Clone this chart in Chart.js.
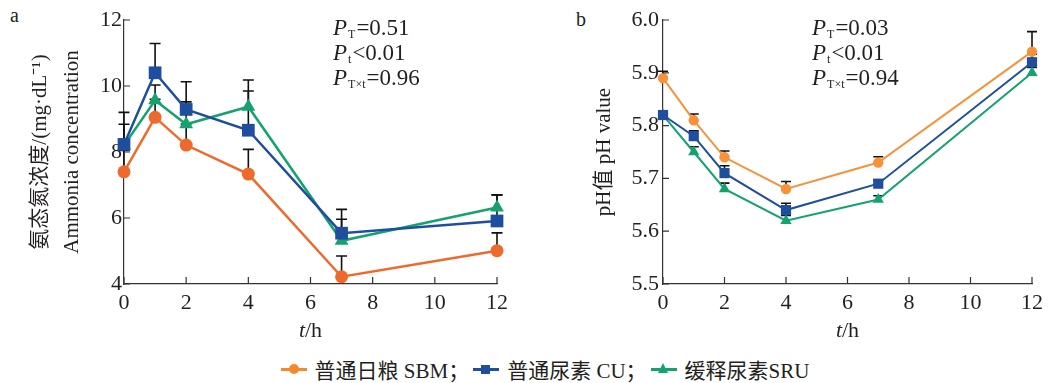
<!DOCTYPE html>
<html>
<head>
<meta charset="utf-8">
<script src="https://cdn.jsdelivr.net/npm/chart.js@4.4.1/dist/chart.umd.min.js"></script>
<style>
  body { margin:0; background:#fff; width:1054px; height:383px; position:relative; overflow:hidden;
         font-family:"Liberation Serif","Noto Sans CJK SC",serif; color:#231f20; }
  .box { position:absolute; top:0; width:527px; height:345px; }
  .tag { position:absolute; font-size:20px; }
  #legend { position:absolute; left:20px; top:356px; width:1054px; height:26px; display:flex;
            justify-content:center; align-items:center; font-size:21px; }
  .item { display:flex; align-items:center; margin-right:4px; }
  .ico { position:relative; width:26px; height:14px; margin-right:8px; }
  .ico .ln { position:absolute; left:0; right:0; top:6px; height:2.5px; }
  .ico .mk { position:absolute; }
</style>
</head>
<body>
<div class="tag" style="left:10px;top:4px">a</div>
<div class="tag" style="left:576px;top:8px">b</div>
<div class="box" style="left:0"><canvas id="nh3"></canvas></div>
<div class="box" style="left:527px"><canvas id="ph"></canvas></div>
<div id="legend"></div>
<script>
// sampling time (h)
const hours = [0, 1, 2, 4, 7, 12];
const groups = ['普通日粮 SBM', '普通尿素 CU', '缓释尿素SRU'];

// ammonia N, mg/dL (mean and top of error bar)
const nh3SBM = [7.40, 9.05, 8.21, 7.33, 4.22, 5.01];
const nh3SBMTop = [8.05, 9.60, 8.85, 8.08, 4.85, 5.55];
const nh3CU = [8.23, 10.40, 9.29, 8.66, 5.54, 5.91];
const nh3CUTop = [9.20, 11.29, 10.13, 9.85, 6.26, 6.70];
const nh3SRU = [8.20, 9.57, 8.84, 9.37, 5.31, 6.32];
const nh3SRUTop = [8.84, 10.03, 9.52, 10.18, 5.96, 6.70];

// pH
const phSBM = [5.89, 5.81, 5.74, 5.68, 5.73, 5.94];
const phSBMTop = [5.903, 5.822, 5.752, 5.694, 5.741, 5.978];
const phCU = [5.82, 5.78, 5.71, 5.64, 5.69, 5.92];
const phCUTop = [5.826, 5.790, 5.724, 5.653, 5.697, 5.935];
const phSRU = [5.82, 5.75, 5.68, 5.62, 5.66, 5.90];
const phSRUTop = [5.826, 5.760, 5.691, 5.630, 5.667, 5.910];

const nh3Stats = [['T', '=0.51'], ['t', '<0.01'], ['T×t', '=0.96']];
const phStats = [['T', '=0.03'], ['t', '<0.01'], ['T×t', '=0.94']];

const blue = '#1f4e9f', green = '#14a26e';
const serif = '"Liberation Serif","Noto Sans CJK SC",serif';
const ink = '#231f20';

// upward SE bars, drawn under the markers
const errorBars = {
  id: 'errorBars',
  beforeDatasetsDraw(chart, args, opts) {
    const { ctx } = chart, yS = chart.scales.y;
    ctx.save();
    ctx.strokeStyle = '#111';
    ctx.lineWidth = 1.6;
    chart.data.datasets.forEach((ds, di) => {
      chart.getDatasetMeta(di).data.forEach((pt, i) => {
        const top = yS.getPixelForValue(ds.errTop[i]);
        ctx.beginPath();
        ctx.moveTo(pt.x, pt.y); ctx.lineTo(pt.x, top);
        ctx.moveTo(pt.x - opts.cap, top); ctx.lineTo(pt.x + opts.cap, top);
        ctx.stroke();
      });
    });
    ctx.restore();
  }
};

// tick marks pointing into the plot, x title, P values
const decor = {
  id: 'decor',
  afterDraw(chart, args, opts) {
    const { ctx, scales: { x, y }, chartArea } = chart;
    ctx.save();
    ctx.strokeStyle = '#333';
    ctx.lineWidth = 1.2;
    ctx.beginPath();
    y.ticks.forEach(t => { const py = y.getPixelForValue(t.value); ctx.moveTo(y.right, py); ctx.lineTo(y.right + 6, py); });
    x.ticks.forEach(t => { const px = x.getPixelForValue(t.value); ctx.moveTo(px, x.top); ctx.lineTo(px, x.top - 7); });
    ctx.stroke();

    ctx.fillStyle = ink;
    ctx.textBaseline = 'alphabetic';
    // x title  t/h
    const cx = (chartArea.left + chartArea.right) / 2;
    ctx.font = 'italic 22px ' + serif;
    const wt = ctx.measureText('t').width;
    ctx.font = '22px ' + serif;
    const wh = ctx.measureText('/h').width;
    const sx = cx - (wt + wh) / 2;
    ctx.font = 'italic 22px ' + serif;
    ctx.fillText('t', sx, 337);
    ctx.font = '22px ' + serif;
    ctx.fillText('/h', sx + wt, 337);

    // P values
    opts.stats.forEach((s, i) => {
      const by = 35 + i * 25;
      let px = opts.px;
      ctx.font = 'italic 23px ' + serif;
      ctx.fillText('P', px, by);
      px += ctx.measureText('P').width + 1;
      ctx.font = '12px ' + serif;
      ctx.fillText(s[0], px, by + 3);
      px += ctx.measureText(s[0]).width + 1;
      ctx.font = '23px ' + serif;
      ctx.fillText(s[1], px, by);
    });
    ctx.restore();
  }
};

function series(label, vals, tops, color, style, r, bw) {
  return {
    label, errTop: tops,
    data: hours.map((h, i) => ({ x: h, y: vals[i] })),
    borderColor: color, backgroundColor: color, borderWidth: bw,
    pointStyle: style, pointRadius: r, pointHoverRadius: r, pointBorderWidth: 0,
    tension: 0, clip: false
  };
}

function makeChart(id, datasets, yOpts, title, yWidth, padRight, stats, px, cap) {
  return new Chart(document.getElementById(id), {
    type: 'line',
    data: { datasets },
    plugins: [errorBars, decor],
    options: {
      responsive: true, maintainAspectRatio: false, animation: false,
      layout: { padding: { top: 20, right: padRight, left: 0, bottom: 0 } },
      plugins: { legend: { display: false }, tooltip: { enabled: false },
                 errorBars: { cap }, decor: { stats, px } },
      scales: {
        x: {
          type: 'linear', min: 0, max: 12,
          ticks: { stepSize: 2, padding: 6, color: ink, font: { family: serif, size: 22 } },
          grid: { display: false, drawTicks: false },
          border: { display: true, color: '#333', width: 1.2 },
          afterFit: s => { s.height = 61; }
        },
        y: Object.assign({
          grid: { display: false, drawTicks: false },
          border: { display: true, color: '#333', width: 1.2 },
          title: title,
          afterFit: s => { s.width = yWidth; }
        }, yOpts)
      }
    }
  });
}

makeChart('nh3', [
  series(groups[0], nh3SBM, nh3SBMTop, '#ee6a2c', 'circle', 6.5, 2.5),
  series(groups[1], nh3CU, nh3CUTop, blue, 'rect', 9, 2.5),
  series(groups[2], nh3SRU, nh3SRUTop, green, 'triangle', 8, 2.5)
], {
  min: 4, max: 12,
  ticks: { stepSize: 2, padding: 2, color: ink, font: { family: serif, size: 22 } }
}, {
  display: true, text: ['氨态氮浓度/(mg·dL⁻¹)', 'Ammonia concentration'], color: ink,
  font: { family: serif, size: 21, lineHeight: 1.55 }, padding: { top: 24, bottom: 0 }
}, 124, 30, nh3Stats, 333, 5.5);

makeChart('ph', [
  series(groups[0], phSBM, phSBMTop, '#f7923a', 'circle', 5.2, 2),
  series(groups[1], phCU, phCUTop, blue, 'rect', 7.2, 2),
  series(groups[2], phSRU, phSRUTop, green, 'triangle', 6.5, 2)
], {
  min: 5.5, max: 6.0,
  ticks: { stepSize: 0.1, padding: 4, color: ink, font: { family: serif, size: 22 },
           callback: v => v.toFixed(1) }
}, {
  display: true, text: 'pH值 pH value', color: ink,
  font: { family: serif, size: 21, lineHeight: 1.2 }, padding: { top: 65, bottom: 0 }
}, 136, 22, phStats, 285, 5);

// legend under both panels
const legendColors = ['#f58a2b', blue, green];
const marks = [
  '<div class="mk" style="left:8px;top:2px;width:10px;height:10px;border-radius:50%;background:#f58a2b"></div>',
  '<div class="mk" style="left:8px;top:2.5px;width:9px;height:9px;background:' + blue + '"></div>',
  '<div class="mk" style="left:7.5px;top:1px;width:0;height:0;border-left:5.5px solid transparent;border-right:5.5px solid transparent;border-bottom:10px solid ' + green + '"></div>'
];
const seps = ['；', '；', ''];
document.getElementById('legend').innerHTML = groups.map((g, i) =>
  '<div class="item"><div class="ico"><div class="ln" style="background:' + legendColors[i] + '"></div>' +
  marks[i] + '</div><span>' + g + seps[i] + '</span></div>').join('');
</script>
</body>
</html>
